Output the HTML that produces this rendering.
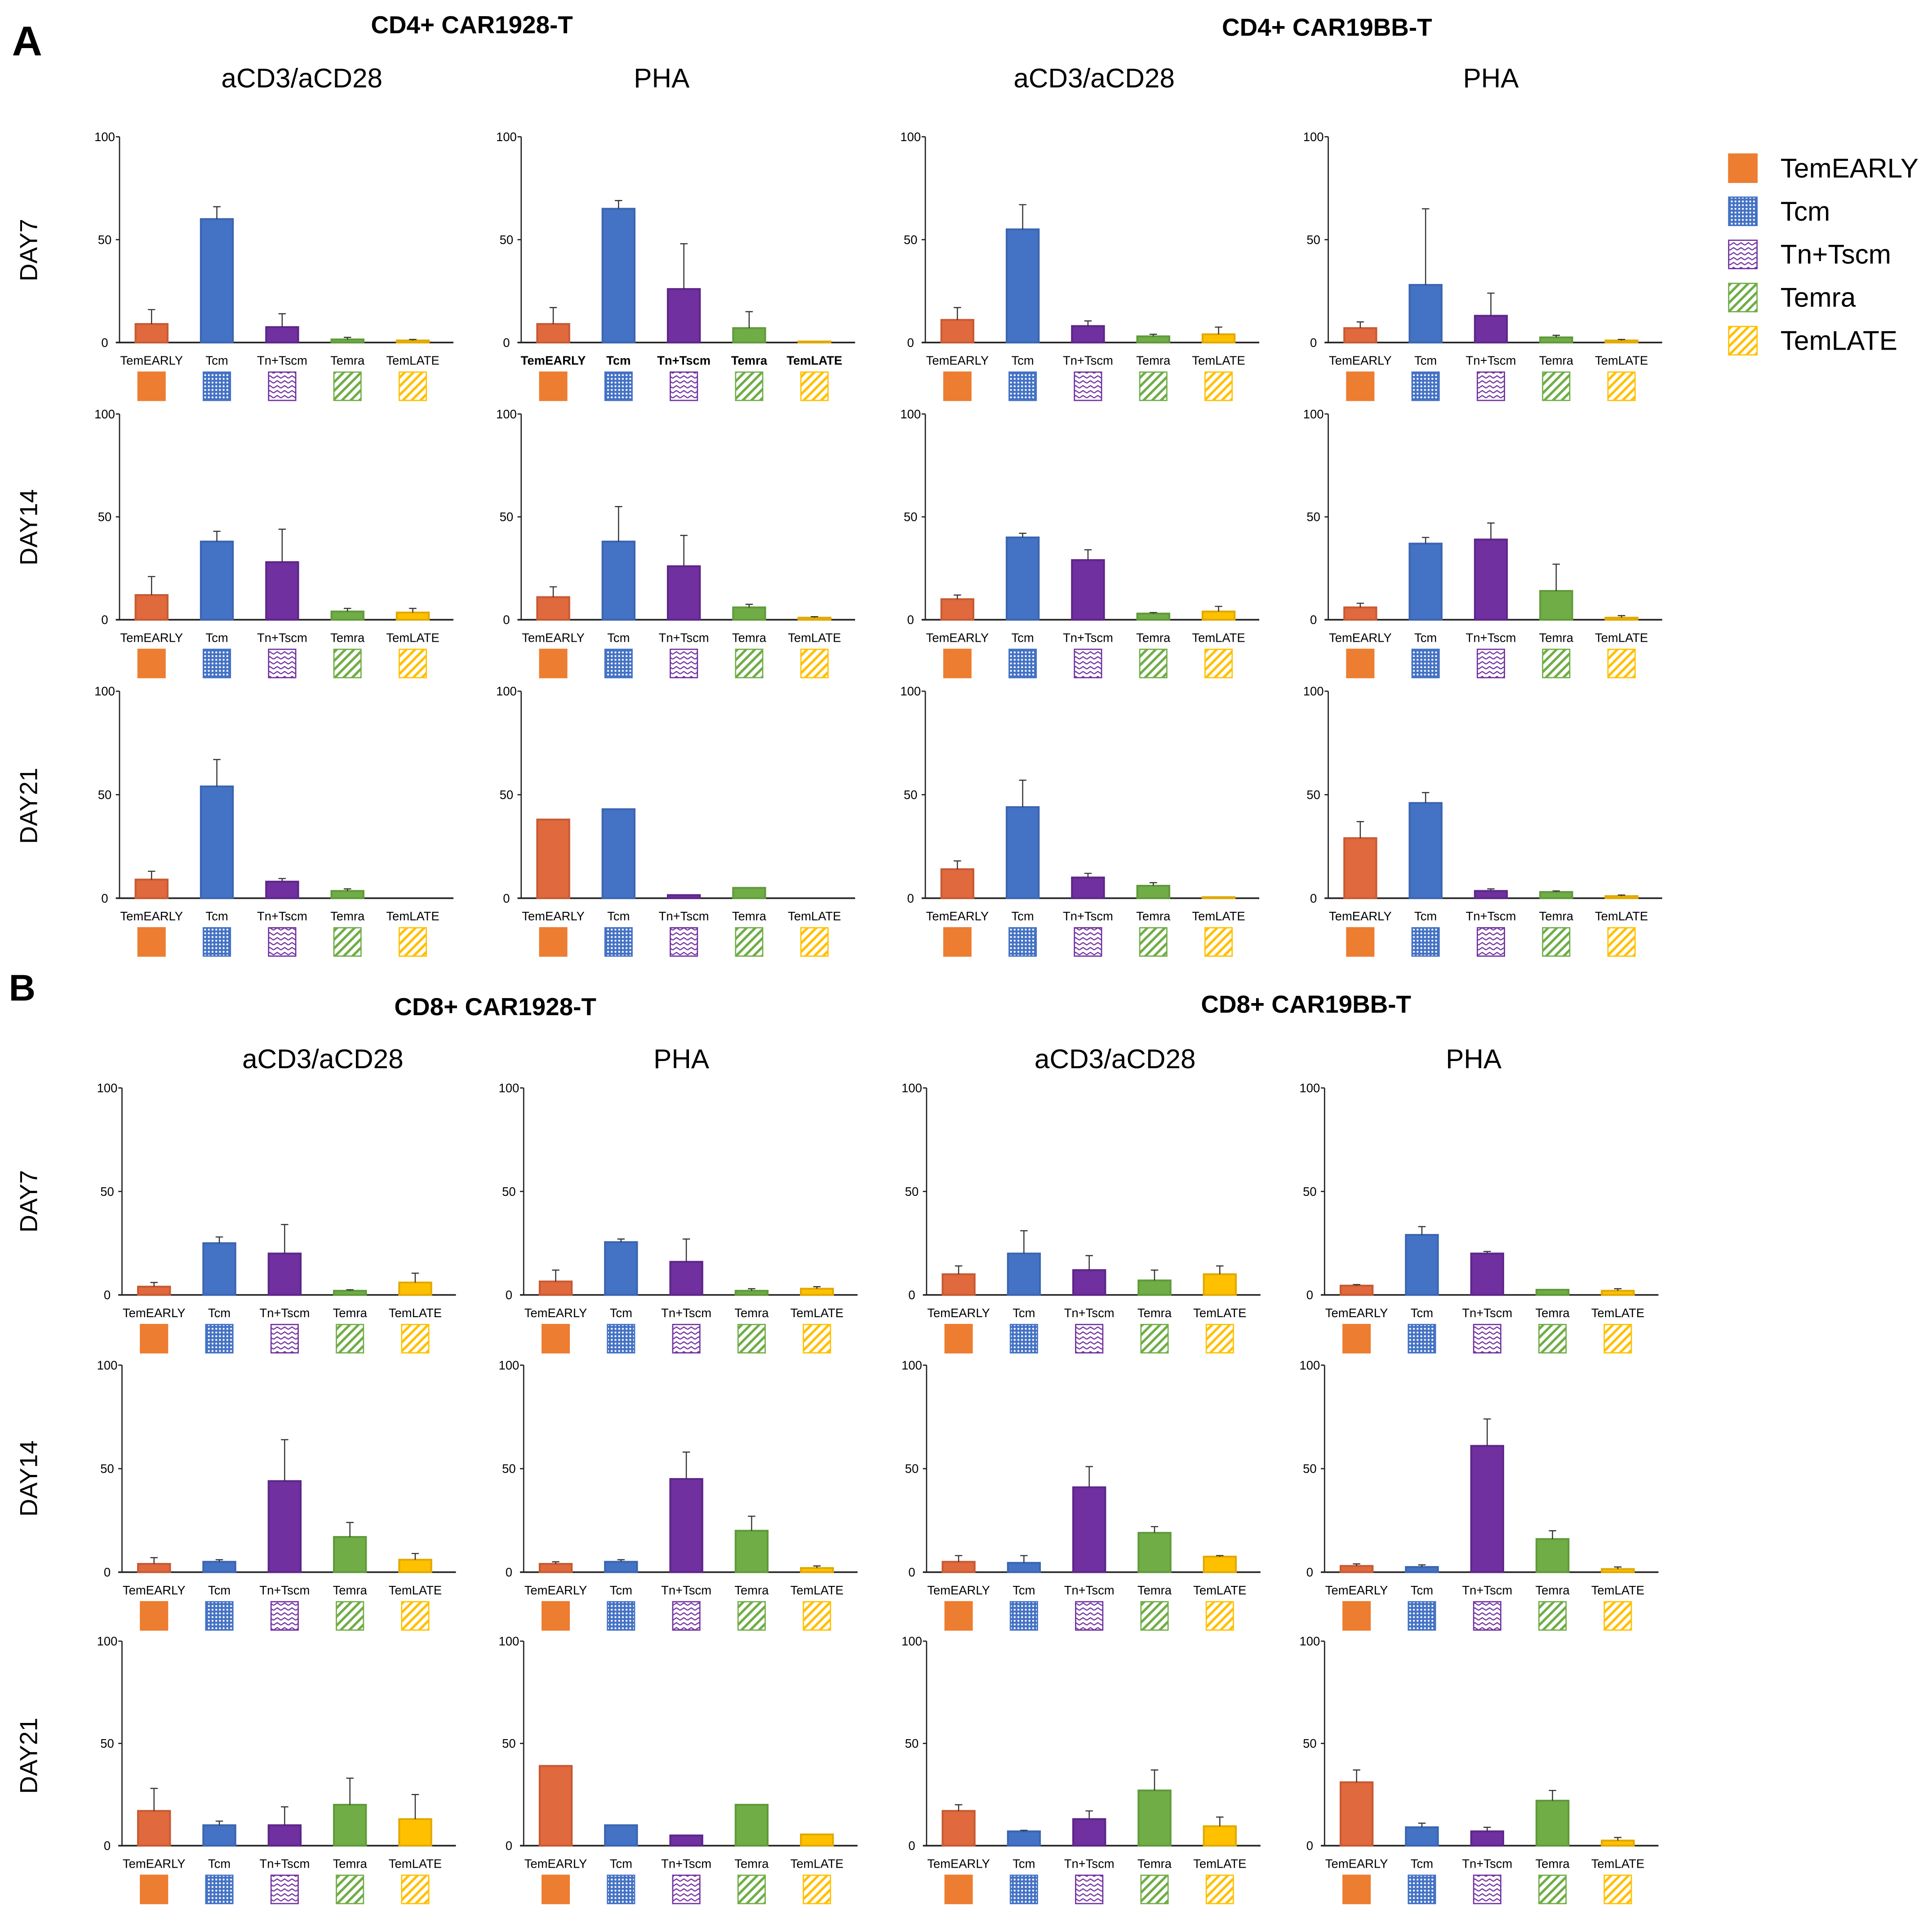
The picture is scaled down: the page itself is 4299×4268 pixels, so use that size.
<!DOCTYPE html>
<html><head><meta charset="utf-8"><style>
html,body{margin:0;padding:0;background:#fff;}
svg{display:block;}
text{font-family:"Liberation Sans",Arial,sans-serif;fill:#000;}
</style></head><body>
<svg id="fig" xmlns="http://www.w3.org/2000/svg" width="4299" height="4268" viewBox="0 0 1568 1556.7">
<defs>
<pattern id="pBlue" patternUnits="userSpaceOnUse" width="3" height="3"><rect width="3" height="3" fill="#4472c4"/><circle cx="1.5" cy="1.5" r="0.8" fill="#fff"/></pattern>
<pattern id="pPurple" patternUnits="userSpaceOnUse" width="6" height="4"><rect width="6" height="4" fill="#fff"/><path d="M0 3 L3 1 L6 3" stroke="#7030a0" stroke-width="0.9" fill="none"/></pattern>
<pattern id="pGreen" patternUnits="userSpaceOnUse" width="5" height="5" patternTransform="rotate(45)"><rect width="5" height="5" fill="#fff"/><rect width="2" height="5" fill="#70ad47"/></pattern>
<pattern id="pYellow" patternUnits="userSpaceOnUse" width="5" height="5" patternTransform="rotate(45)"><rect width="5" height="5" fill="#fff"/><rect width="2" height="5" fill="#ffc000"/></pattern>
</defs>
<g id="root"></g>
</svg>
<script>
const categories = ["TemEARLY","Tcm","Tn+Tscm","Temra","TemLATE"];
const legendLabels = ["TemEARLY","Tcm","Tn+Tscm","Temra","TemLATE"];
// Section A (CD4+), order: day7 p1..p4, day14 p1..p4, day21 p1..p4
const valuesA = [
 [9,60,7.5,1.5,1],[9,65,26,7,0.5],[11,55,8,3,4],[7,28,13,2.5,1],
 [12,38,28,4,3.5],[11,38,26,6,1],[10,40,29,3,4],[6,37,39,14,1],
 [9,54,8,3.5,0],[38,43,1.5,5,0],[14,44,10,6,0.5],[29,46,3.5,3,1]
];
const errTopsA = [
 [16,66,14,2.5,1.5],[17,69,48,15,0.5],[17,67,10.5,4,7.5],[10,65,24,3.5,1.5],
 [21,43,44,5.5,5.5],[16,55,41,7.5,1.5],[12,42,34,3.5,6.5],[8,40,47,27,2],
 [13,67,9.5,4.5,0],[38,43,1.5,5,0],[18,57,12,7.5,0.5],[37,51,4.5,3.5,1.5]
];
// Section B (CD8+)
const valuesB = [
 [4,25,20,2,6],[6.5,25.5,16,2,3],[10,20,12,7,10],[4.5,29,20,2.5,2],
 [4,5,44,17,6],[4,5,45,20,2],[5,4.5,41,19,7.5],[3,2.5,61,16,1.5],
 [17,10,10,20,13],[39,10,5,20,5.5],[17,7,13,27,9.5],[31,9,7,22,2.5]
];
const errTopsB = [
 [6,28,34,2.5,10.5],[12,27,27,3,4],[14,31,19,12,14],[5,33,21,2.5,3],
 [7,6,64,24,9],[5,6,58,27,3],[8,8,51,22,8],[4,3.5,74,20,2.5],
 [28,12,19,33,25],[39,10,5,20,5.5],[20,7.5,17,37,14],[37,11,9,27,4]
];
const yTicks = [0,50,100];

const NS="http://www.w3.org/2000/svg";
const root=document.getElementById('root');
function mk(tag,attrs,parent){const e=document.createElementNS(NS,tag);for(const k in attrs)e.setAttribute(k,attrs[k]);(parent||root).appendChild(e);return e;}
function txt(s,x,y,size,opts,parent){const t=mk('text',Object.assign({x:x,y:y,'font-size':size,'text-anchor':'middle'},opts||{}),parent);t.textContent=s;return t;}

const barFill=["#e0693d","#4472c4","#7030a0","#70ad47","#ffc000"];
const barStroke=["#c65a33","#3b65b0","#5e2688","#5f9a3b","#e0a800"];
const swFill=["#ed7d31","url(#pBlue)","url(#pPurple)","url(#pGreen)","url(#pYellow)"];
const swStroke=["#ed7d31","#4472c4","#7030a0","#70ad47","#ffc000"];

function panel(ax,y100,y0,vals,tops,bold,name){
  const g=mk('g',{});
  
  
  const yS=v=>y0-(y0-y100)*v/100;
  const xS=i=>ax+26+53*i;
  mk('line',{x1:ax,y1:y100,x2:ax,y2:y0,stroke:'#222','stroke-width':1},g);
  mk('line',{x1:ax-3,y1:y0,x2:ax+271,y2:y0,stroke:'#222','stroke-width':1.3},g);
  yTicks.forEach(t=>{
    mk('line',{x1:ax-3,y1:yS(t),x2:ax,y2:yS(t),stroke:'#222','stroke-width':1},g);
    const lab=txt(String(t),ax-12,yS(t)+3.5,10,{},g);
    
    
  });
  vals.forEach((v,i)=>{
    const x=xS(i);
    if(v>0){
      const b=mk('rect',{x:x-13,y:yS(v),width:26,height:y0-yS(v),fill:barFill[i],stroke:barStroke[i],'stroke-width':1.5},g);
      
      
    }
    const et=tops[i];
    if(et>v){
      const e=mk('path',{d:`M${x} ${yS(v)} V${yS(et)} M${x-3} ${yS(et)} H${x+3}`,stroke:'#333','stroke-width':0.9,fill:'none'},g);
      
      
    }
    const cl=txt(categories[i],x,y0+18,10,bold?{'font-weight':'bold'}:{},g);
    
    
    const s=mk('rect',{x:x-11,y:y0+24,width:22,height:23,fill:swFill[i],stroke:swStroke[i],'stroke-width':1},g);
    
    
  });
}

const axA=[97,423,751,1078], rowsA=[[111,278],[336,503],[561,729]];
const axB=[99,425,752,1075], rowsB=[[883,1051],[1108,1276],[1332,1498]];
const dayNames=["day7","day14","day21"];
for(let r=0;r<3;r++)for(let c=0;c<4;c++){
  const k=r*4+c;
  panel(axA[c],rowsA[r][0],rowsA[r][1],valuesA[k],errTopsA[k],(r===0&&c===1),'panel-a-'+dayNames[r]+'-'+(c+1));
  panel(axB[c],rowsB[r][0],rowsB[r][1],valuesB[k],errTopsB[k],false,'panel-b-'+dayNames[r]+'-'+(c+1));
}

function label(s,x,y,size,name,extra){const t=txt(s,x,y,size,extra||{});return t;}
label('A',22,45,34,'section-a-label',{'font-weight':'bold'});
label('B',18,812,30,'section-b-label',{'font-weight':'bold'});
label('CD4+ CAR1928-T',383,27,20,'cd4-car1928-title',{'font-weight':'bold'});
label('CD4+ CAR19BB-T',1077,29,20,'cd4-car19bb-title',{'font-weight':'bold'});
label('CD8+ CAR1928-T',402,824,20,'cd8-car1928-title',{'font-weight':'bold'});
label('CD8+ CAR19BB-T',1060,822,20,'cd8-car19bb-title',{'font-weight':'bold'});
[['aCD3/aCD28',245],['PHA',537],['aCD3/aCD28',888],['PHA',1210]].forEach(a=>label(a[0],a[1],71,22,'stimulation-subtitle'));
[['aCD3/aCD28',262],['PHA',553],['aCD3/aCD28',905],['PHA',1196]].forEach(a=>label(a[0],a[1],867,22,'stimulation-subtitle'));
[['DAY7',203],['DAY14',428],['DAY21',654],['DAY7',975],['DAY14',1200],['DAY21',1425]].forEach(a=>{
  label(a[0],0,0,20,'row-label-'+a[0].toLowerCase(),{transform:`translate(30,${a[1]}) rotate(-90)`});
});
const lg=mk('g',{});


legendLabels.forEach((s,i)=>{
  const y=125+35*i;
  const r=mk('rect',{x:1403,y:y,width:23,height:23,fill:swFill[i],stroke:swStroke[i],'stroke-width':1},lg);
  
  
  const t=txt(s,1445,y+19,22,{'text-anchor':'start'},lg);
  
  
});
</script>
</body></html>
